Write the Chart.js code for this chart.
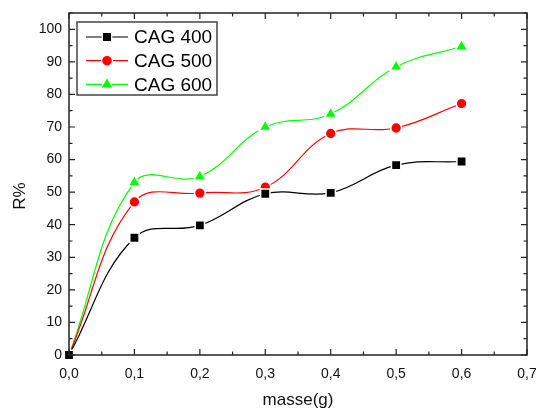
<!DOCTYPE html>
<html>
<head>
<meta charset="utf-8">
<script src="https://cdn.jsdelivr.net/npm/chart.js"></script>
<style>
  html, body { margin: 0; padding: 0; background: #fff; }
  #wrap { width: 536px; height: 408px; }
</style>
</head>
<body>
<div id="wrap"><canvas id="grafico"></canvas></div>
<script>
const masse = [0, 0.1, 0.2, 0.3, 0.4, 0.5, 0.6];
const cag400 = [0, 36, 39.8, 49.5, 49.8, 58.3, 59.4];
const cag500 = [0, 47, 49.7, 51.5, 68, 69.7, 77.2];
const cag600 = [0, 53, 54.8, 70, 74, 88.5, 94.7];
const noms = ['CAG 400', 'CAG 500', 'CAG 600'];
const couleurs = ['#000000', '#ff0000', '#00ff00'];
const symboles = ['rect', 'circle', 'triangle'];
const tailles = [6.6, 5.4, 7.2];

function points(vals) {
    return masse.map((m, i) => ({ x: m, y: vals[i] }));
}

const fmt = v => v.toFixed(1).replace('.', ',');
const police = '"Liberation Sans", Arial, sans-serif';

// cadre, graduations vers l'interieur, titres et legende
const cadre = {
    id: 'cadre',
    afterDraw(chart) {
        const { ctx, chartArea: a, scales } = chart;
        ctx.save();
        ctx.strokeStyle = '#222';
        ctx.lineWidth = 1.5;
        ctx.strokeRect(a.left, a.top, a.right - a.left, a.bottom - a.top);
        ctx.lineWidth = 1.2;
        ctx.beginPath();
        for (let i = 0; i <= 14; i++) {
            const x = scales.x.getPixelForValue(i * 0.05);
            const l = i % 2 === 0 ? 6 : 3.5;
            ctx.moveTo(x, a.bottom); ctx.lineTo(x, a.bottom - l);
            ctx.moveTo(x, a.top); ctx.lineTo(x, a.top + l);
        }
        for (let v = 0; v <= 105; v += 5) {
            const y = scales.y.getPixelForValue(v);
            const l = v % 10 === 0 ? 6 : 3.5;
            ctx.moveTo(a.left, y); ctx.lineTo(a.left + l, y);
            ctx.moveTo(a.right, y); ctx.lineTo(a.right - l, y);
        }
        ctx.stroke();

        // titres des axes
        ctx.fillStyle = '#111';
        ctx.font = '17px ' + police;
        ctx.textAlign = 'center';
        ctx.textBaseline = 'middle';
        ctx.fillText('masse(g)', (a.left + a.right) / 2, 400);
        ctx.save();
        ctx.translate(20, 196);
        ctx.rotate(-Math.PI / 2);
        ctx.fillText('R%', 0, 0);
        ctx.restore();

        // legende
        const bx = 77, by = 22, bw = 140, bh = 73;
        ctx.fillStyle = '#fff';
        ctx.fillRect(bx, by, bw, bh);
        ctx.strokeStyle = '#444';
        ctx.lineWidth = 1.5;
        ctx.strokeRect(bx, by, bw, bh);
        ctx.font = '19px ' + police;
        ctx.textAlign = 'left';
        noms.forEach((n, i) => {
            const y = 37 + i * 23.7;
            ctx.strokeStyle = couleurs[i];
            ctx.lineWidth = 1.2;
            ctx.beginPath();
            ctx.moveTo(86, y); ctx.lineTo(128, y);
            ctx.stroke();
            ctx.fillStyle = couleurs[i];
            ctx.strokeStyle = '#fff';
            Chart.helpers.drawPoint(ctx, {
                pointStyle: symboles[i], radius: tailles[i], rotation: 0, borderWidth: 1
            }, 107, y);
            ctx.fillStyle = '#000';
            ctx.fillText(n, 134, y + 1);
        });
        ctx.restore();
    }
};

new Chart(document.getElementById('grafico'), {
    type: 'line',
    data: {
        datasets: noms.map((n, i) => ({
            label: n,
            data: points([cag400, cag500, cag600][i]),
            borderColor: couleurs[i],
            backgroundColor: couleurs[i],
            borderWidth: 1.2,
            tension: 0.4,
            pointStyle: symboles[i],
            pointRadius: tailles[i],
            pointBorderColor: '#fff',
            pointBorderWidth: 1.5,
            clip: 8
        }))
    },
    options: {
        responsive: true,
        maintainAspectRatio: false,
        animation: false,
        layout: { padding: { top: 13, right: 9, left: 0, bottom: 0 } },
        plugins: { legend: { display: false }, tooltip: { enabled: false } },
        scales: {
            x: {
                type: 'linear',
                min: 0, max: 0.7,
                grid: { display: false, tickLength: 0 },
                border: { display: false },
                afterBuildTicks(s) {
                    s.ticks = [0, 0.1, 0.2, 0.3, 0.4, 0.5, 0.6, 0.7].map(v => ({ value: v }));
                },
                afterFit(s) {
                    s.height = 53;
                    s.paddingLeft = 0;
                    s.paddingRight = 0;
                },
                ticks: {
                    color: '#111',
                    padding: 11,
                    maxRotation: 0,
                    font: { family: police, size: 14 },
                    callback: v => fmt(v)
                }
            },
            y: {
                min: 0, max: 105,
                grid: { display: false, tickLength: 0 },
                border: { display: false },
                afterBuildTicks(s) {
                    const t = [];
                    for (let v = 0; v <= 100; v += 10) t.push({ value: v });
                    s.ticks = t;
                },
                afterFit(s) {
                    s.width = 69;
                    s.paddingTop = 0;
                    s.paddingBottom = 0;
                },
                ticks: {
                    color: '#111',
                    padding: 7,
                    font: { family: police, size: 14 }
                }
            }
        }
    },
    plugins: [cadre]
});
</script>
</body>
</html>
